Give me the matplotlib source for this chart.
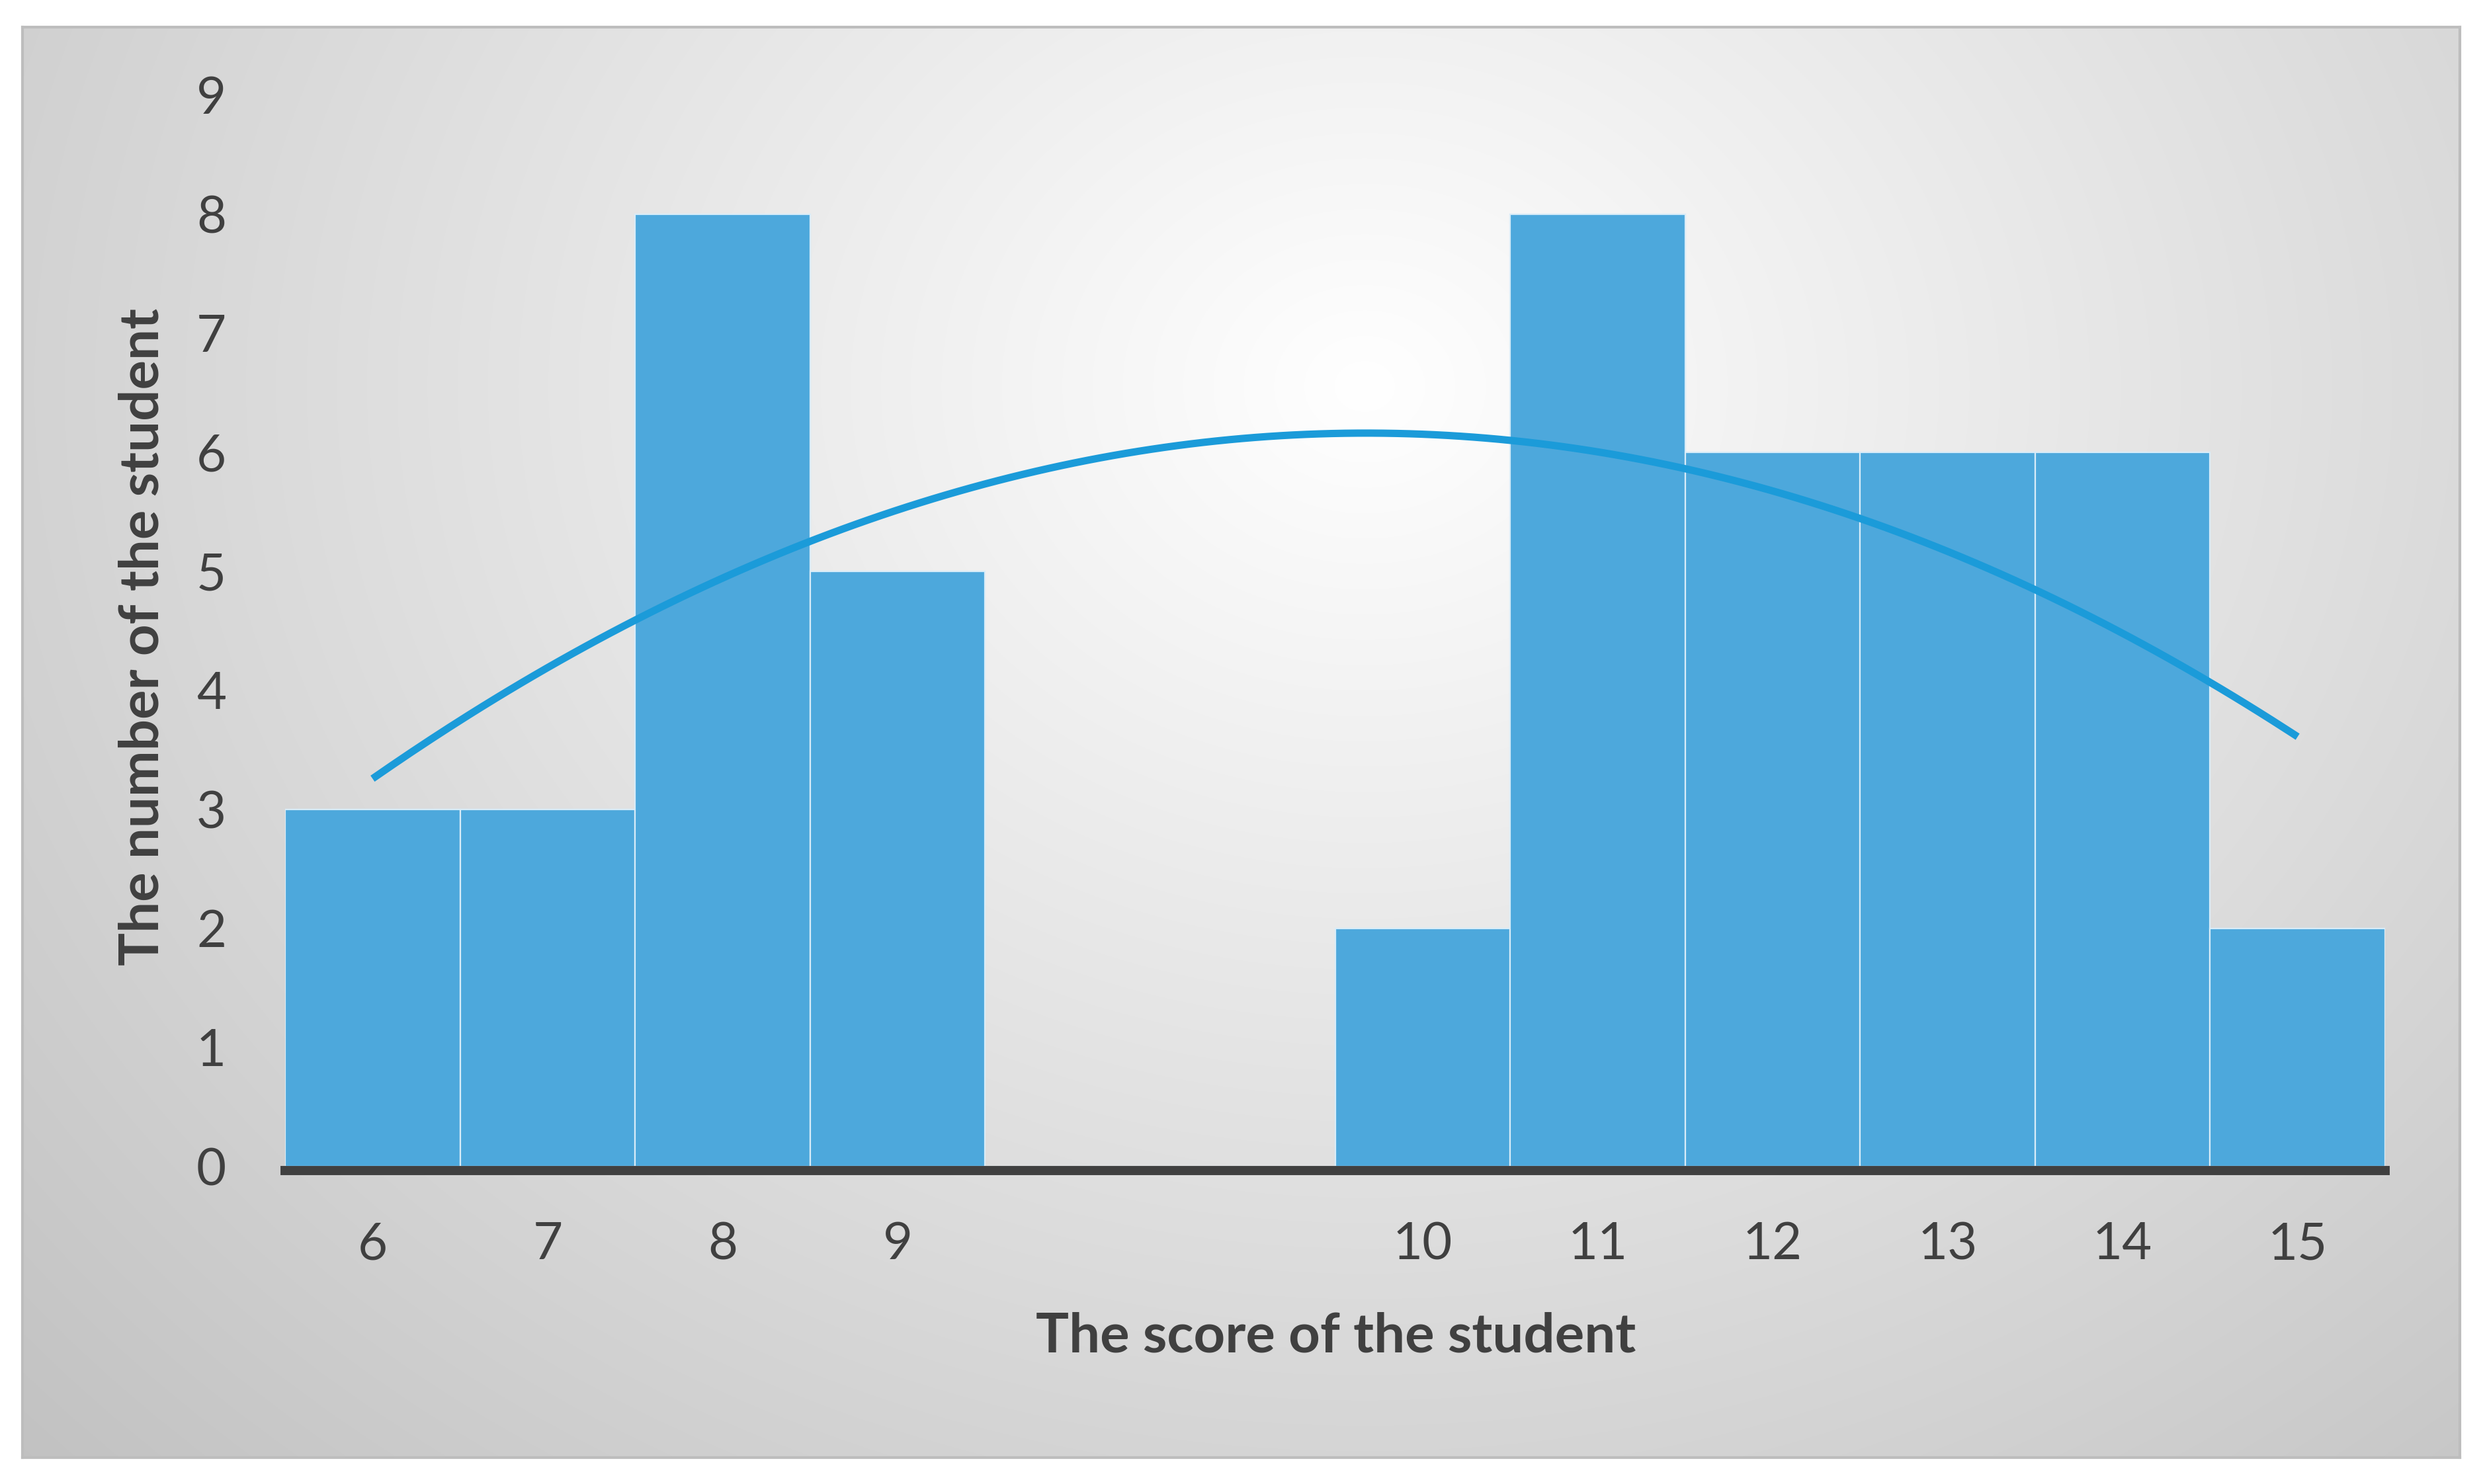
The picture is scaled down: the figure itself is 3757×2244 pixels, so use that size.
import numpy as np
import matplotlib
matplotlib.use("Agg")
import matplotlib.pyplot as plt

# ---- data ----
categories = ["6", "7", "8", "9", "", "", "10", "11", "12", "13", "14", "15"]
counts = [3, 3, 8, 5, None, None, 2, 8, 6, 6, 6, 2]
y_ticks = [0, 1, 2, 3, 4, 5, 6, 7, 8, 9]
x_label = "The score of the student"
y_label = "The number of the student"

plt.rcParams['font.family'] = ['Lato', 'DejaVu Sans']

W, H = 3757, 2244
DPI = 200
fig = plt.figure(figsize=(W / DPI, H / DPI), dpi=DPI)
fig.patch.set_facecolor("white")

# background frame with radial gradient
fl, fb, fr, ft = 34 / W, 1 - 2204 / H, 3719 / W, 1 - 41 / H
bg = fig.add_axes([fl, fb, fr - fl, ft - fb], zorder=0)
ny, nx = 400, 700
yy, xx = np.mgrid[0:ny, 0:nx]
cx, cy = 0.55 * nx, 0.25 * ny
d = np.sqrt(((xx - cx) / nx) ** 2 + ((yy - cy) / ny * 0.7) ** 2)
d = d / d.max()
v = 1.0 - 0.24 * np.clip(d, 0, 1) ** 1.0
img = np.dstack([v, v, v])
bg.imshow(img, aspect="auto", extent=[0, 1, 0, 1], interpolation="bilinear")
bg.set_xticks([]); bg.set_yticks([])
for s in bg.spines.values():
    s.set_color("#bdbdbd")
    s.set_linewidth(1.5)

# main axes
al, ab, ar, at = 431 / W, 1 - 1764 / H, 3606 / W, 1 - 144 / H
ax = fig.add_axes([al, ab, ar - al, at - ab], zorder=1)
ax.set_facecolor("none")

x = np.arange(len(categories))
vals = np.array([np.nan if c is None else c for c in counts], dtype=float)
ax.bar(x, np.nan_to_num(vals), width=1.0, color="#4da8dc",
       edgecolor="#d8ecf8", linewidth=0.8, zorder=2)

# polynomial (order 2) trendline fitted to the non-blank values
mask = ~np.isnan(vals)
coef = np.polyfit(x[mask], vals[mask], 2)
xs = np.linspace(x[0], x[-1], 300)
ax.plot(xs, np.polyval(coef, xs), color="#1b9bd9", linewidth=4.0,
        solid_capstyle="butt", zorder=3)

ax.axhline(-0.035, color="#404040", linewidth=5.0, zorder=4, clip_on=False)

ax.set_xlim(-0.5, len(categories) - 0.5)
ax.set_ylim(0, 9)
ax.set_yticks(y_ticks)
ax.set_xticks(x)
ax.set_xticklabels(categories)
ax.tick_params(axis="both", length=0, labelsize=28, colors="#404040")
ax.tick_params(axis="y", pad=32)
ax.tick_params(axis="x", pad=30)
for s in ax.spines.values():
    s.set_visible(False)

fig.text(843 / 1568, 1 - 844 / 937, x_label, ha="center", va="center",
         fontsize=30, fontweight="bold", color="#404040")
fig.text(90 / 1568, 1 - 402 / 937, y_label, ha="center", va="center",
         rotation=90, fontsize=30, fontweight="bold", color="#404040")

fig.savefig("out.png", dpi=DPI)
